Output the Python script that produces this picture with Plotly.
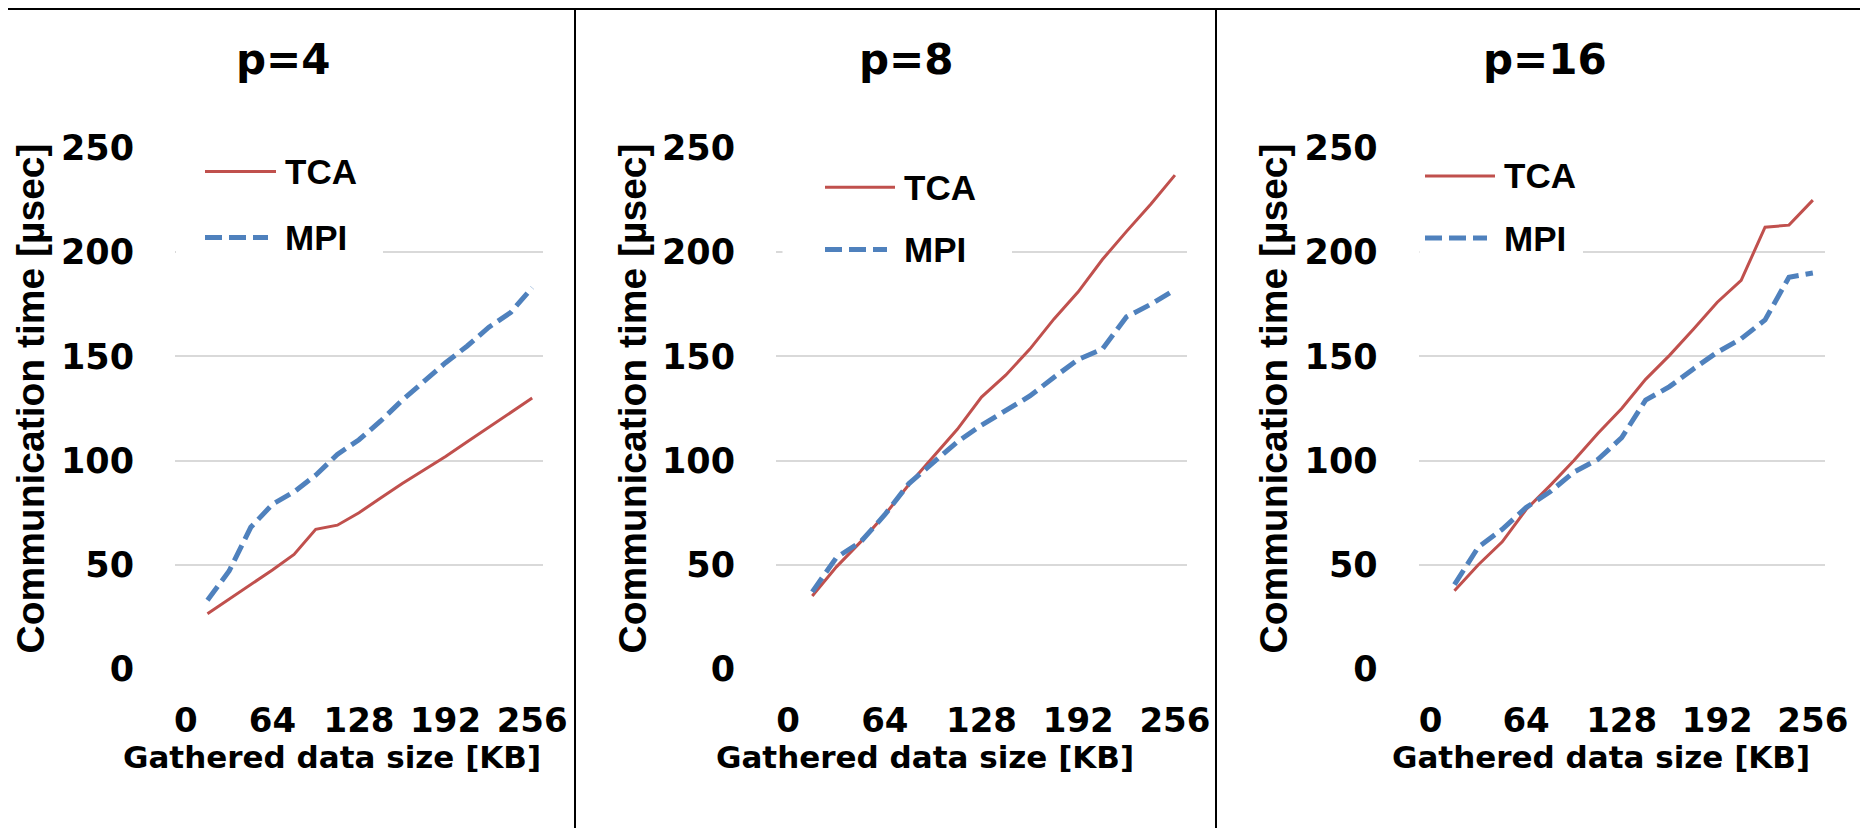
import plotly.graph_objects as go

# ---------------- data ----------------
data_size_kb = [16, 32, 48, 64, 80, 96, 112, 128, 144, 160, 176, 192, 208, 224, 240, 256]
panel_titles = ["p=4", "p=8", "p=16"]
series_names = ["TCA", "MPI"]

tca_p4 = [26.5, 33.5, 40.5, 47.5, 55, 67, 69, 75, 82, 89, 95.5, 102, 109, 116, 123, 130]
mpi_p4 = [33, 47, 68, 79, 85, 93, 103, 110, 119, 129, 138, 147, 155, 164, 171, 183]

tca_p8 = [35, 49, 61, 74, 88.5, 101.5, 115, 130.5, 141, 153.5, 168, 181, 196.5, 210, 223, 237]
mpi_p8 = [37, 53.5, 61, 74, 89, 99, 109, 117, 124, 131, 140, 148.5, 153.5, 169, 175, 182]

tca_p16 = [37.5, 50, 61, 76.5, 88, 100, 113, 125, 139, 150.5, 163, 176, 186.5, 212, 213, 225]
mpi_p16 = [40.5, 58.5, 67, 77.5, 85, 94.5, 100.5, 111, 129, 135.5, 144, 152, 158.5, 167.5, 188, 190]

x_ticks = [0, 64, 128, 192, 256]
y_ticks = [0, 50, 100, 150, 200, 250]
x_title = "Gathered data size [KB]"
y_title = "Communication time [µsec]"

# ---------------- layout helpers ----------------
PAGE_W, PAGE_H = 1868, 828
OFF = 8                      # default page margin of the html body
W, H = PAGE_W - OFF, PAGE_H - OFF
RED = "#C0504D"
BLUE = "#4F81BD"
GRID = "#D9D9D9"


def px(x):
    """page pixel x -> paper fraction"""
    return (x - OFF) / W


def py(y):
    """page pixel y -> paper fraction"""
    return 1 - (y - OFF) / H


tca_all = [tca_p4, tca_p8, tca_p16]
mpi_all = [mpi_p4, mpi_p8, mpi_p16]

# plot-area pixel extents (left, right) for each panel (page pixels)
x_extents = [(175, 543), (776, 1187), (1418.6, 1824.8)]
y_dom = [py(669.6), py(147.4)]

fig = go.Figure()

for i in range(3):
    sfx = "" if i == 0 else str(i + 1)
    fig.add_trace(go.Scatter(
        x=data_size_kb, y=tca_all[i], mode="lines", name=series_names[0],
        line=dict(color=RED, width=3), xaxis="x" + sfx, yaxis="y" + sfx,
        showlegend=False))
    fig.add_trace(go.Scatter(
        x=data_size_kb, y=mpi_all[i], mode="lines", name=series_names[1],
        line=dict(color=BLUE, width=5, dash="17px,7px"), xaxis="x" + sfx, yaxis="y" + sfx,
        showlegend=False))

xtick_font = dict(family="DejaVu Sans", size=34, color="black", weight="bold")
ytick_font = dict(family="DejaVu Sans", size=35, color="black", weight="bold")
layout_axes = {}
for i in range(3):
    sfx = "" if i == 0 else str(i + 1)
    l, r = x_extents[i]
    layout_axes["xaxis" + sfx] = dict(
        domain=[px(l), px(r)], range=[-8, 264], tickvals=x_ticks,
        showgrid=False, zeroline=False, showline=False, ticks="",
        tickfont=xtick_font, ticklabelstandoff=27, anchor="y" + sfx,
        automargin=False, fixedrange=True)
    layout_axes["yaxis" + sfx] = dict(
        domain=y_dom, range=[-0.3, 250.3], tickvals=y_ticks,
        showgrid=True, gridcolor=GRID, gridwidth=2, zeroline=False,
        showline=False, ticks="", tickfont=ytick_font, ticklabelstandoff=40,
        anchor="x" + sfx, automargin=False, fixedrange=True)

fig.update_layout(
    width=W, height=H, autosize=False,
    margin=dict(l=0, r=0, t=0, b=0, pad=0),
    paper_bgcolor="white", plot_bgcolor="white",
    template="none", showlegend=False,
    **layout_axes)

shapes = []
annotations = []

# panel borders
shapes.append(dict(type="line", xref="paper", yref="paper", x0=0, x1=1,
                   y0=py(9), y1=py(9), line=dict(color="black", width=2), layer="above"))
for xb in (575, 1216):
    shapes.append(dict(type="line", xref="paper", yref="paper", x0=px(xb), x1=px(xb),
                       y0=py(8), y1=0, line=dict(color="black", width=2), layer="above"))

# legend boxes (white background hiding gridlines) + legend samples
legend_specs = [
    dict(box=(176, 383, 138, 262), lx0=205, tx1=276, mx1=268, ty=171.6, my=237.6, tx=283),
    dict(box=(782.5, 1012, 158, 262), lx0=825, tx1=895, mx1=887, ty=187.2, my=249.5, tx=901.5),
    dict(box=(1419.5, 1583, 138, 262), lx0=1425, tx1=1495, mx1=1487, ty=176, my=238, tx=1501.5),
]
leg_font = dict(family="Liberation Sans", size=35, color="black", weight="bold")
for s in legend_specs:
    bx0, bx1, by0, by1 = s["box"]
    shapes.append(dict(type="rect", xref="paper", yref="paper",
                       x0=px(bx0), x1=px(bx1), y0=py(by1), y1=py(by0),
                       fillcolor="white", line=dict(width=0), layer="above"))
    shapes.append(dict(type="line", xref="paper", yref="paper",
                       x0=px(s["lx0"]), x1=px(s["tx1"]), y0=py(s["ty"]), y1=py(s["ty"]),
                       line=dict(color=RED, width=3), layer="above"))
    shapes.append(dict(type="line", xref="paper", yref="paper",
                       x0=px(s["lx0"]), x1=px(s["mx1"]), y0=py(s["my"]), y1=py(s["my"]),
                       line=dict(color=BLUE, width=5, dash="17px,7px"), layer="above"))
    annotations.append(dict(text=series_names[0], xref="paper", yref="paper",
                            x=px(s["tx"]), y=py(s["ty"]), xanchor="left", yanchor="middle",
                            showarrow=False, font=leg_font))
    annotations.append(dict(text=series_names[1], xref="paper", yref="paper",
                            x=px(s["tx"]), y=py(s["my"]), xanchor="left", yanchor="middle",
                            showarrow=False, font=leg_font))

# titles and axis titles
title_x = [283, 906, 1545]
xtitle_x = [332, 924.5, 1601]
ytitle_x = [30, 632, 1273]
title_font = dict(family="DejaVu Sans", size=42, color="black", weight="bold")
xt_font = dict(family="DejaVu Sans", size=31, color="black", weight="bold")
yt_font = dict(family="Liberation Sans", size=39, color="black", weight="bold")
for i in range(3):
    annotations.append(dict(text=panel_titles[i], xref="paper", yref="paper",
                            x=px(title_x[i]), y=py(59), xanchor="center", yanchor="middle",
                            showarrow=False, font=title_font))
    annotations.append(dict(text=x_title, xref="paper", yref="paper",
                            x=px(xtitle_x[i]), y=py(757), xanchor="center", yanchor="middle",
                            showarrow=False, font=xt_font))
    annotations.append(dict(text=y_title, xref="paper", yref="paper",
                            x=px(ytitle_x[i]), y=py(398.5), xanchor="center", yanchor="middle",
                            textangle=-90, showarrow=False, font=yt_font))

fig.update_layout(shapes=shapes, annotations=annotations)

fig.write_html("out.html")
